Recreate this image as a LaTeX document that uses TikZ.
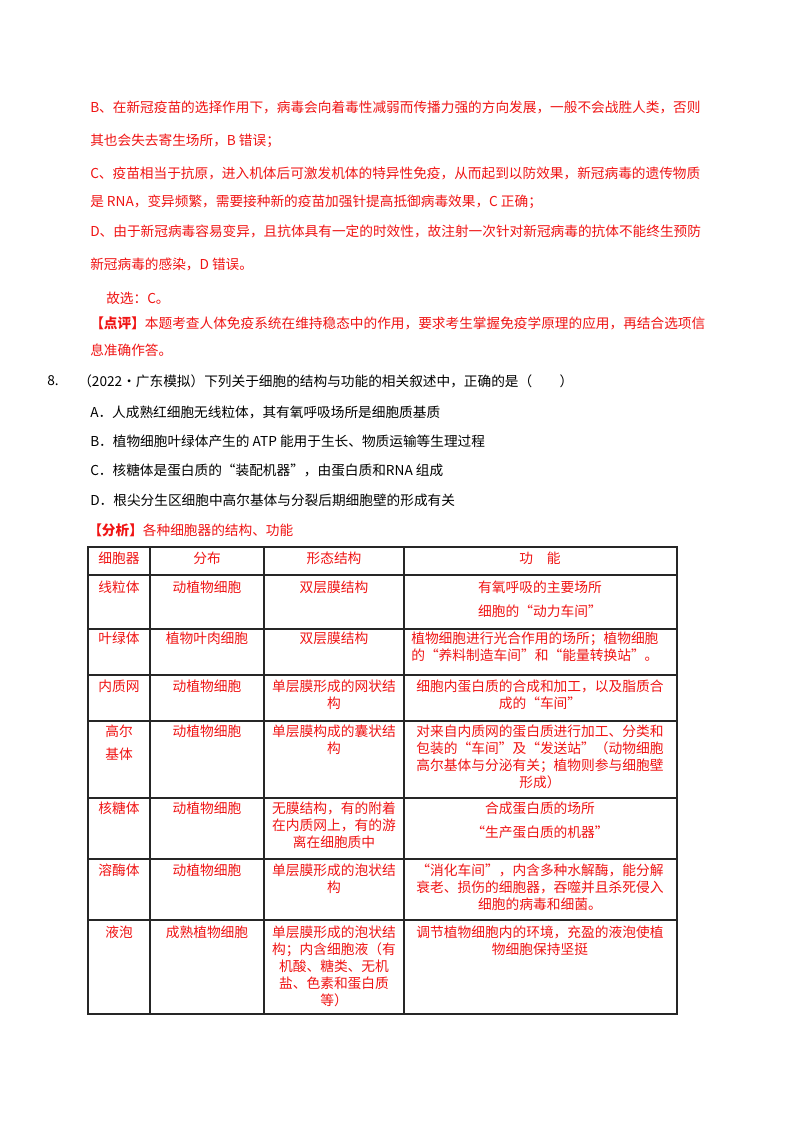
\documentclass[tikz,border=0pt]{standalone}
\usepackage{fontspec}
\newfontfamily\cjk{Noto Sans CJK SC}
\definecolor{rd}{RGB}{240,20,20}
\begin{document}
\begin{tikzpicture}[x=0.75pt,y=-0.75pt,
  txt/.style={anchor=west,inner sep=0pt,font=\cjk\fontsize{10.25pt}{12pt}\selectfont},
  cell/.style={anchor=north,inner sep=0pt,align=center,text=rd,font=\cjk\fontsize{10.3pt}{12.75pt}\selectfont},
  cellL/.style={anchor=north west,inner sep=0pt,align=left,text=rd,font=\cjk\fontsize{10.3pt}{12.75pt}\selectfont},
  grid/.style={draw=black!85,line width=1.1pt}]
\useasboundingbox[fill=white] (0,0) rectangle (800,1132);
\node[txt,text=rd] (l1) at (90,107) {B、在新冠疫苗的选择作用下，病毒会向着毒性减弱而传播力强的方向发展，一般不会战胜人类，否则};
\node[txt,text=rd] (l2) at (90,141) {其也会失去寄生场所，B 错误；};
\node[txt,text=rd] (l3) at (90,173) {C、疫苗相当于抗原，进入机体后可激发机体的特异性免疫，从而起到以防效果，新冠病毒的遗传物质};
\node[txt,text=rd] (l4) at (90,202) {是 RNA，变异频繁，需要接种新的疫苗加强针提高抵御病毒效果，C 正确；};
\node[txt,text=rd] (l5) at (90,231) {D、由于新冠病毒容易变异，且抗体具有一定的时效性，故注射一次针对新冠病毒的抗体不能终生预防};
\node[txt,text=rd] (l6) at (90,264) {新冠病毒的感染，D 错误。};
\node[txt,text=rd] (l7) at (106,298) {故选：C。};
\node[txt,text=rd] (l8) at (90,323) {\textbf{【点评】}本题考查人体免疫系统在维持稳态中的作用，要求考生掌握免疫学原理的应用，再结合选项信};
\node[txt,text=rd] (l9) at (90,350) {息准确作答。};
\node[txt] (q8) at (47,381) {8.};
\node[txt] (q) at (78,381) {（2022•广东模拟）下列关于细胞的结构与功能的相关叙述中，正确的是（　　）};
\node[txt] (oa) at (90,412) {A．人成熟红细胞无线粒体，其有氧呼吸场所是细胞质基质};
\node[txt] (ob) at (90,441) {B．植物细胞叶绿体产生的 ATP 能用于生长、物质运输等生理过程};
\node[txt] (oc) at (90,470) {C．核糖体是蛋白质的“装配机器”，由蛋白质和RNA 组成};
\node[txt] (od) at (90,500) {D．根尖分生区细胞中高尔基体与分裂后期细胞壁的形成有关};
\node[txt,text=rd] (fx) at (88,530) {\textbf{【分析】}各种细胞器的结构、功能};
% grid
\draw[grid] (88,547) rectangle (677,1014);
\foreach \x in {150,264,404} \draw[grid] (\x,547) -- (\x,1014);
\foreach \y in {575,629,675,721,798,859,920} \draw[grid] (88,\y) -- (677,\y);
% header
\node[cell] (h1) at (119,552) {细胞器};
\node[cell] (h2) at (207,552) {分布};
\node[cell] (h3) at (334,552) {形态结构};
\node[cell] (h4) at (540,552) {功\quad 能};
% row 1
\node[cell] (a1) at (119,581) {线粒体};
\node[cell] (a2) at (207,581) {动植物细胞};
\node[cell] (a3) at (334,581) {双层膜结构};
\node[cell] (a4) at (540,581) {有氧呼吸的主要场所};
\node[cell] (a5) at (540,605) {细胞的“动力车间”};
% row 2
\node[cell] (b1) at (119,632) {叶绿体};
\node[cell] (b2) at (207,632) {植物叶肉细胞};
\node[cell] (b3) at (334,632) {双层膜结构};
\node[cellL] (b4) at (411,632) {植物细胞进行光合作用的场所；植物细胞\\的“养料制造车间”和“能量转换站”。};
% row 3
\node[cell] (c1) at (119,680) {内质网};
\node[cell] (c2) at (207,680) {动植物细胞};
\node[cell] (c3) at (334,680) {单层膜形成的网状结\\构};
\node[cell] (c4) at (540,680) {细胞内蛋白质的合成和加工，以及脂质合\\成的“车间”};
% row 4
\node[cell] (d1) at (119,725) {高尔\\[4pt]基体};
\node[cell] (d2) at (207,725) {动植物细胞};
\node[cell] (d3) at (334,725) {单层膜构成的囊状结\\构};
\node[cell] (d4) at (540,725) {对来自内质网的蛋白质进行加工、分类和\\包装的“车间”及“发送站”（动物细胞\\高尔基体与分泌有关；植物则参与细胞壁\\形成）};
% row 5
\node[cell] (e1) at (119,802) {核糖体};
\node[cell] (e2) at (207,802) {动植物细胞};
\node[cell] (e3) at (334,802) {无膜结构，有的附着\\在内质网上，有的游\\离在细胞质中};
\node[cell] (e4) at (540,802) {合成蛋白质的场所};
\node[cell] (e5) at (540,826) {“生产蛋白质的机器”};
% row 6
\node[cell] (f1) at (119,864) {溶酶体};
\node[cell] (f2) at (207,864) {动植物细胞};
\node[cell] (f3) at (334,864) {单层膜形成的泡状结\\构};
\node[cell] (f4) at (540,864) {“消化车间”，内含多种水解酶，能分解\\衰老、损伤的细胞器，吞噬并且杀死侵入\\细胞的病毒和细菌。};
% row 7
\node[cell] (g1) at (119,926) {液泡};
\node[cell] (g2) at (207,926) {成熟植物细胞};
\node[cell] (g3) at (334,926) {单层膜形成的泡状结\\构；内含细胞液（有\\机酸、糖类、无机\\盐、色素和蛋白质\\等）};
\node[cell] (g4) at (540,926) {调节植物细胞内的环境，充盈的液泡使植\\物细胞保持坚挺};
\end{tikzpicture}
\end{document}
